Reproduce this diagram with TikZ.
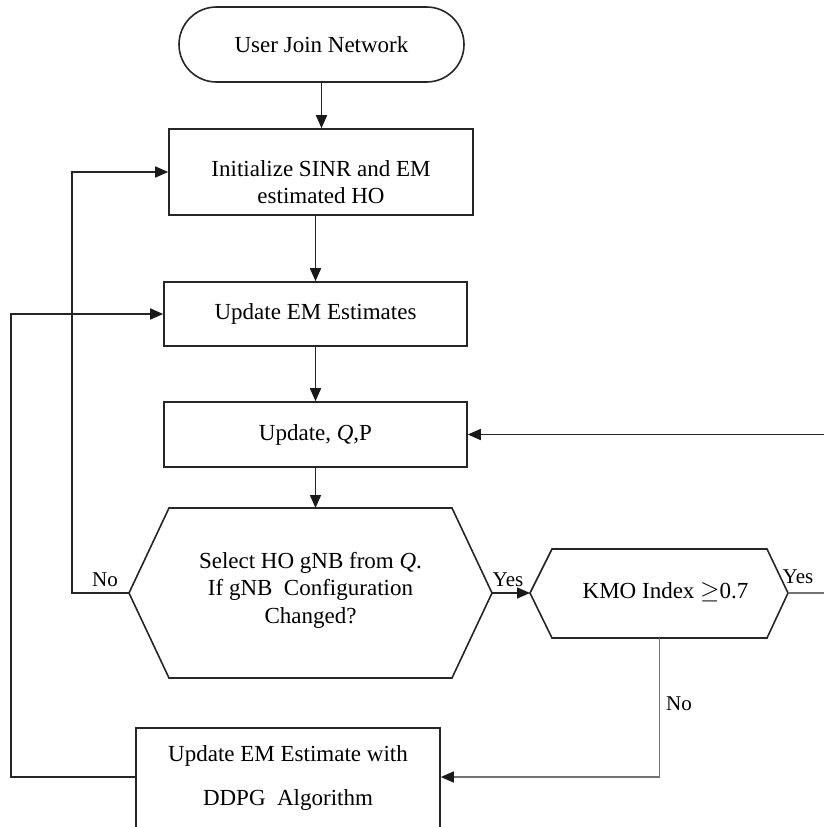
\documentclass[tikz,border=0pt]{standalone}
\usepackage{fontspec}
\setmainfont{Liberation Serif}
\usetikzlibrary{arrows.meta,shapes.misc}
\begin{document}
\begin{tikzpicture}[x=1pt,y=-1pt,
  line width=1.6pt,
  every node/.style={font=\fontsize{23}{27.5}\selectfont},
  box/.style={draw=black!85, rectangle, inner sep=0pt},
  term/.style={draw=black!85, rounded rectangle, minimum width=285pt, minimum height=75pt, inner sep=0pt},
  arr/.style={draw=black!85, -{Triangle[length=13pt,width=11pt,color=black!90]}},
  lbl/.style={font=\fontsize{21}{25}\selectfont, inner sep=0pt},
  soft/.style={draw=black!55}]

\useasboundingbox (0,0) rectangle (824,827);
\clip (0,0) rectangle (824,827);

% process boxes
\node[term] (start) at (321.5,44.5) {User Join Network};
\node[box, minimum width=304pt, minimum height=86pt,
  label={[align=center,yshift=-10pt]center:Initialize SINR and EM\\estimated HO}] (init) at (321,172) {};
\node[box, minimum width=303pt, minimum height=64pt] (updem) at (315.5,314) {Update EM Estimates};
\node[box, minimum width=303pt, minimum height=65pt] (qp) at (315.5,434.5) {Update, \textit{Q},P};
\node[box, minimum width=304pt, minimum height=140pt, anchor=north,
  label={[align=center,anchor=north,yshift=-14pt]north:Update EM Estimate with\\[17pt]DDPG\ \ Algorithm}] (ddpg) at (288,727) {};

% decision: gNB selection
\coordinate (h1w) at (129,593);
\coordinate (h1e) at (492,593);
\coordinate (h1n) at (310.5,508);
\draw[black!85] (h1w) -- (169,508) -- (452,508) -- (h1e) -- (452,678) -- (169,678) -- cycle;
\node[align=center] (sel) at (310.5,590) {Select HO gNB from \textit{Q}.\\If gNB\ \ Configuration\\Changed?};

% decision: KMO test
\coordinate (k1w) at (530,593);
\coordinate (k1e) at (788,593);
\coordinate (k1s) at (659.5,638);
\draw[black!85] (k1w) -- (552,549) -- (767,549) -- (k1e) -- (767,638) -- (552,638) -- cycle;
\node (kmo) at (665.5,592) {KMO Index $\geq$0.7};

% right-hand return path
\coordinate (rE) at (834,593);

% connectors
\draw[arr] (start.south) -- (start.south |- init.north);
\draw[arr] (init.south -| updem.north) -- (updem.north);
\draw[arr] (updem.south) -- (updem.south |- qp.north);
\draw[arr] (qp.south) -- (qp.south |- h1n);
\draw[arr] (h1e) -- (k1w);
\draw[arr] (h1w) -- ++(-57,0) |- (init.west);
\draw[soft] (k1e) -- (rE);
\draw[arr] (rE) |- (qp.east);
\draw[arr, soft] (k1s) |- ([yshift=-50pt]ddpg.north east);
\draw[arr] ([yshift=-50pt]ddpg.north west) -- ++(-124,0) |- (updem.west);

% branch labels
\node[lbl] (no1) at (105,580) {No};
\node[lbl] (yes1) at (508,580) {Yes};
\node[lbl] (yes2) at (798,577) {Yes};
\node[lbl] (no2) at (679,704) {No};
\end{tikzpicture}
\end{document}
